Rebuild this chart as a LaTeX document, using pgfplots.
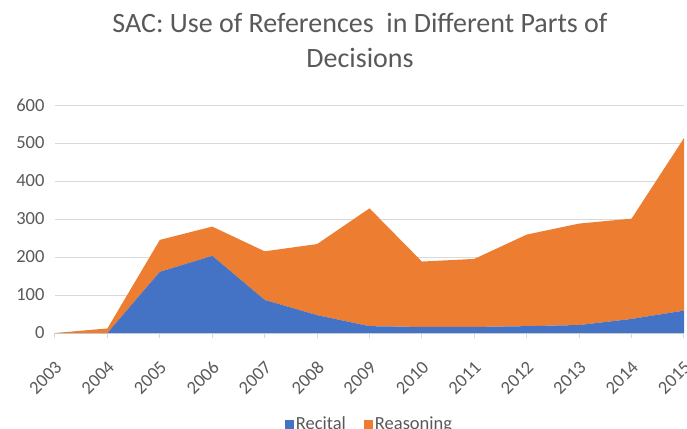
\documentclass[border=0pt]{standalone}
\usepackage{pgfplots}
\pgfplotsset{compat=1.18}
\usepackage{fontspec}
\setmainfont{Carlito}
\definecolor{cblue}{HTML}{4472C4}
\definecolor{corange}{HTML}{ED7D31}
\definecolor{cgrid}{HTML}{D9D9D9}
\definecolor{ctext}{HTML}{595959}
\begin{document}
\begin{tikzpicture}
\path[use as bounding box] (-55pt,-95pt) rectangle (632pt,333pt);
\begin{axis}[
  at={(0pt,0pt)}, anchor=south west,
  scale only axis, width=629pt, height=228pt,
  xmin=2003, xmax=2015, ymin=0, ymax=600,
  xtick={2003,...,2015},
  xticklabel style={rotate=45, anchor=north east, font=\fontsize{18.5}{18.5}\selectfont, color=ctext, inner sep=0pt, xshift=-1pt},
  xticklabel shift=21pt,
  x tick label style={/pgf/number format/1000 sep={}},
  ytick={0,100,...,600},
  yticklabel style={font=\fontsize{18.5}{18.5}\selectfont, color=ctext, xshift=-2pt},
  /pgf/number format/assume math mode=true,
  ymajorgrids, grid style={cgrid, line width=1pt},
  axis y line*=left,
  y axis line style={draw=none},
  axis x line*=bottom,
  x axis line style={cgrid, line width=1pt, -},
  xtick style={cgrid, line width=1pt},
  tick align=outside, major tick length=5pt,
  ytick style={draw=none},
  stack plots=y,
  legend columns=2,
  legend style={draw=none, at={(0.5,-0.40)}, anchor=center, font=\fontsize{18.5}{18.5}\selectfont, text=ctext,
    /tikz/every even column/.append style={column sep=16pt}},
  legend image code/.code={\fill[#1] (0pt,-4.5pt) rectangle (9pt,4.5pt);},
]
\addplot[fill=cblue, draw=none] coordinates {
(2003,0) (2004,0) (2005,161) (2006,203) (2007,87) (2008,47) (2009,18) (2010,16) (2011,16) (2012,18) (2013,21) (2014,37) (2015,59)
} \closedcycle;
\addlegendentry{Recital}
\addplot[fill=corange, draw=none] coordinates {
(2003,0) (2004,12) (2005,84) (2006,77) (2007,128) (2008,187) (2009,310) (2010,172) (2011,179) (2012,241) (2013,267) (2014,264) (2015,454)
} \closedcycle;
\addlegendentry{Reasoning}
\end{axis}
\node[font=\fontsize{28}{28}\selectfont, text=ctext, anchor=base] at (305pt,300pt) {SAC: Use of References\ \ in Different Parts of};
\node[font=\fontsize{28}{28}\selectfont, text=ctext, anchor=base] at (305pt,265pt) {Decisions};
\end{tikzpicture}
\end{document}
